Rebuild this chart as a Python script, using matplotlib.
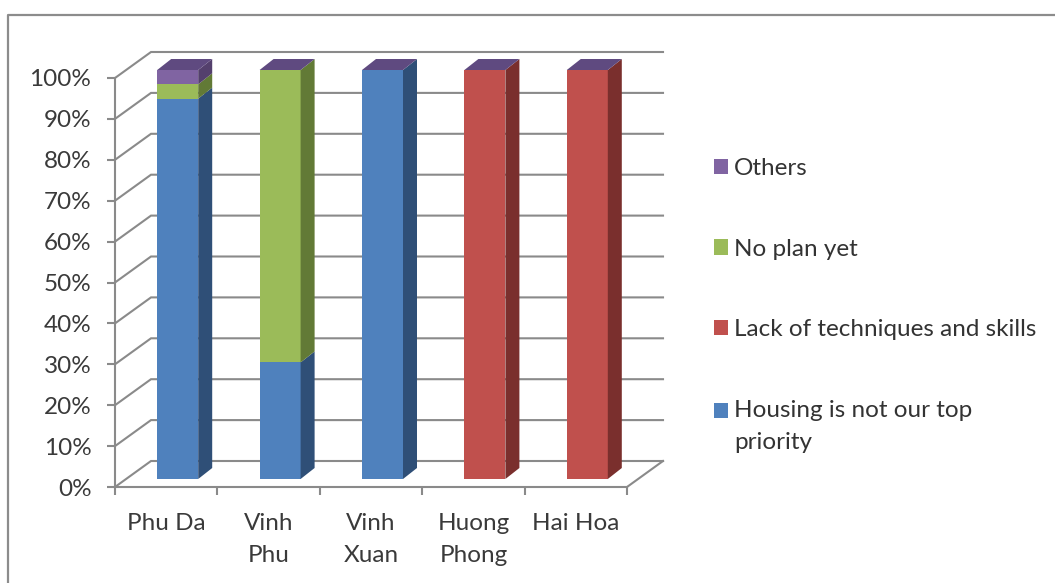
import matplotlib
matplotlib.use("Agg")
import matplotlib.pyplot as plt
from matplotlib.patches import Patch, Polygon
from matplotlib.lines import Line2D

categories = ["Phu Da", "Vinh\nPhu", "Vinh\nXuan", "Huong\nPhong", "Hai Hoa"]
housing = [93, 28.5, 100, 0, 0]
lack = [0, 0, 0, 100, 100]
no_plan = [3.5, 71.5, 0, 0, 0]
others = [3.5, 0, 0, 0, 0]
series_names = ["Housing is not our top\npriority", "Lack of techniques and skills", "No plan yet", "Others"]
series_values = [housing, lack, no_plan, others]
front_colors = ["#4F81BD", "#C0504D", "#9BBB59", "#8064A2"]
side_colors = ["#2F4F77", "#7A2F2D", "#627A36", "#54406D"]
top_color = "#5F4A80"
yticks = list(range(0, 101, 10))

W, H = 1055, 583
FS = 17.5
plt.rcParams["font.family"] = ["Lato", "DejaVu Sans"]
fig = plt.figure(figsize=(W / 100, H / 100), dpi=100, facecolor="white")
L, R, T, B = 115, 627, 78, 487
ax = fig.add_axes([L / W, 1 - B / H, (R - L) / W, (B - T) / H])
ax.set_xlim(0, 5)
ax.set_ylim(0, 100)
ax.patch.set_visible(False)
px_x = 5 / (R - L)
px_y = 100 / (B - T)

grid = "#8A8A8A"
wall_dx, wall_dy = 36 * px_x, 26 * px_y
for v in yticks:
    ax.plot([0, wall_dx, 5 + wall_dx], [v, v + wall_dy, v + wall_dy], color=grid, lw=1.5, clip_on=False, zorder=1, solid_joinstyle="miter")
ax.plot([5, 5 + wall_dx], [0, wall_dy], color=grid, lw=1.5, clip_on=False, zorder=1)

bar_w = 41 * px_x
off_x, off_y = 11.5 * px_x, 8 * px_y
dep_x, dep_y = 14 * px_x, 11 * px_y
for i in range(len(categories)):
    left = i + 0.5 - bar_w / 2 + off_x
    right = left + bar_w
    base = 0
    z = 3
    for vals, fc, sc in zip(series_values, front_colors, side_colors):
        v = vals[i]
        if v == 0:
            continue
        ax.bar(left, v, width=bar_w, bottom=base + off_y, align="edge", color=fc, linewidth=0, clip_on=False, zorder=z)
        ax.add_patch(Polygon([(right, base + off_y), (right + dep_x, base + off_y + dep_y),
                              (right + dep_x, base + v + off_y + dep_y), (right, base + v + off_y)],
                             closed=True, facecolor=sc, edgecolor="none", clip_on=False, zorder=z))
        base += v
    ax.add_patch(Polygon([(left, base + off_y), (right, base + off_y),
                          (right + dep_x, base + off_y + dep_y), (left + dep_x, base + off_y + dep_y)],
                         closed=True, facecolor=top_color, edgecolor="none", clip_on=False, zorder=z))

for s in ["top", "right"]:
    ax.spines[s].set_visible(False)
for s in ["left", "bottom"]:
    ax.spines[s].set_color(grid)
    ax.spines[s].set_linewidth(1.5)
ax.set_yticks(yticks)
ax.set_yticklabels([f"{v}%" for v in yticks])
ax.set_xticks(range(6))
ax.set_xticklabels([])
ax.set_xticks([i + 0.5 for i in range(5)], minor=True)
ax.set_xticklabels(categories, minor=True)
ax.tick_params(axis="both", which="major", length=6, width=1.5, color=grid)
ax.tick_params(axis="y", pad=11, labelsize=FS, labelcolor="#3A3A3A")
ax.tick_params(axis="x", which="minor", length=0, pad=19, labelsize=FS, labelcolor="#3A3A3A")
for t in ax.get_xticklabels(minor=True):
    t.set_linespacing(1.6)

handles = [Patch(facecolor=c, edgecolor="none") for c in front_colors[::-1]]
leg = fig.legend(handles, series_names[::-1], loc="upper left", bbox_to_anchor=(714 / W, 1 - 158 / H),
                 bbox_transform=fig.transFigure, frameon=False, fontsize=FS, labelcolor="#333333",
                 labelspacing=2.45, handlelength=0.58, handleheight=0.58, handletextpad=0.25,
                 borderpad=0, borderaxespad=0)
for t in leg.get_texts():
    t.set_linespacing(1.65)
hh = leg.legend_handles[-1]
hh.set_y(hh.get_y() + 11.5)

border = "#8C8C8C"
fig.add_artist(Line2D([8 / W, 8 / W, 1], [0, 1 - 15 / H, 1 - 15 / H], transform=fig.transFigure, color=border, lw=1.6))

fig.savefig("out.png", dpi=100)
